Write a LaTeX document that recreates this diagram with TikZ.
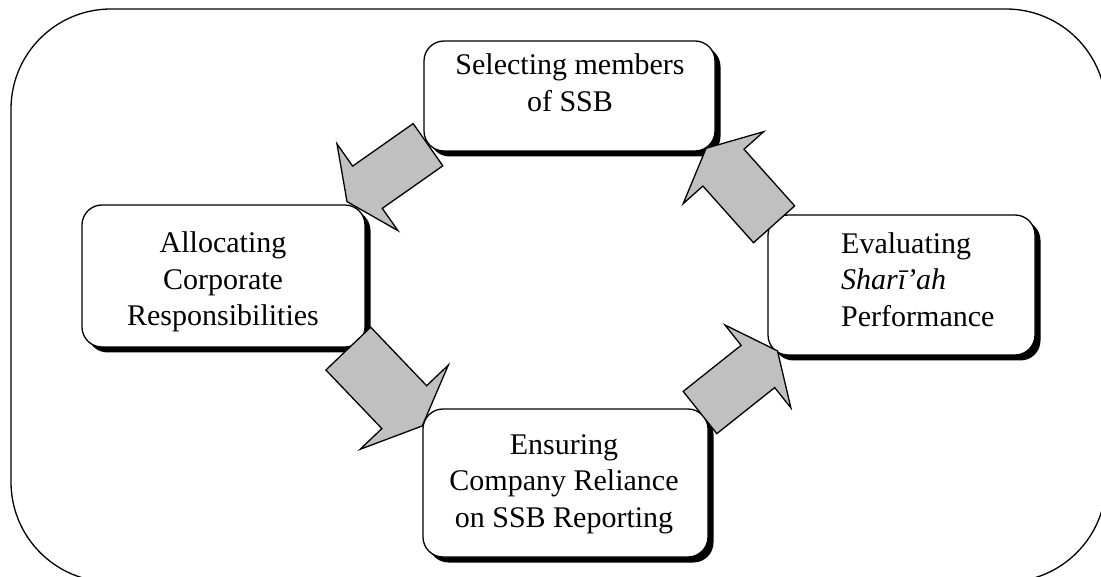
\documentclass[tikz,border=0pt]{standalone}
\usepackage{fontspec}
\setmainfont{Liberation Serif}
\usetikzlibrary{shadows}
\definecolor{arrowgray}{HTML}{C0C0C0}

\tikzset{
  frame/.style={draw=black, line width=1.3pt, rounded corners=100pt},
  stagebox/.style={draw=black, fill=white, line width=1.3pt,
    rounded corners=20pt, inner sep=0pt,
    drop shadow={shadow xshift=5.5pt, shadow yshift=-5.5pt,
      fill=black, opacity=1}},
  boxtext/.style={inner sep=0pt, font=\fontsize{30}{36.7}\selectfont,
    anchor=base},
  arrowbody/.style={draw=black, fill=arrowgray, line width=1.3pt,
    line join=miter},
}

% Block arrow: tail centre (x,y), direction angle, shaft length,
% shaft half-width, head half-width, head length
\newcommand\BlockArrow[7]{%
  \begin{scope}[shift={(#1,#2)}, rotate=#3]
    \draw[arrowbody] (0,#5) -- (#4,#5) -- (#4,#6) -- ({#4+#7},0)
      -- (#4,-#6) -- (#4,-#5) -- (0,-#5) -- cycle;
  \end{scope}}

\begin{document}
\begin{tikzpicture}[x=1pt, y=-1pt]
  \useasboundingbox (0,0) rectangle (1101,577);
  \clip (0,0) rectangle (1101,577);

  % outer frame
  \draw[frame] (11,9) rectangle (1106,582);

  % stages of the cycle
  \node[stagebox, minimum width=291pt, minimum height=110pt] (select) at (569.5,96) {};
  \node[stagebox, minimum width=283pt, minimum height=142pt] (alloc) at (223.5,276) {};
  \node[stagebox, minimum width=285pt, minimum height=148pt] (ensure) at (565.5,483) {};
  \node[stagebox, minimum width=267pt, minimum height=140pt] (evaluate) at (901.5,285) {};

  % stage labels
  \node[boxtext] (select1) at (570,75) {Selecting members};
  \node[boxtext] (select2) at (570,111.7) {of SSB};

  \node[boxtext] (alloc1) at (223,252.5) {Allocating};
  \node[boxtext] (alloc2) at (223,289.2) {Corporate};
  \node[boxtext] (alloc3) at (223,325.9) {Responsibilities};

  \node[boxtext] (ensure1) at (564,454) {Ensuring};
  \node[boxtext] (ensure2) at (564,490.7) {Company Reliance};
  \node[boxtext] (ensure3) at (564,527.4) {on SSB Reporting};

  \node[boxtext, anchor=base west] (eval1) at (841,253.3) {Evaluating};
  \node[boxtext, anchor=base west] (eval2) at (841,290) {\textit{Sharī’ah}};
  \node[boxtext, anchor=base west] (eval3) at (841,326.7) {Performance};

  % block arrows between the stages
  \BlockArrow{428}{144.7}{215.1}{74}{25.8}{53}{25}
  \BlockArrow{348.3}{348.6}{-46.3}{81}{31}{61}{26}
  \BlockArrow{700}{412.5}{38.5}{74}{27}{53}{25}
  \BlockArrow{774.1}{224.3}{131.8}{76}{27.6}{54}{26}
\end{tikzpicture}
\end{document}
